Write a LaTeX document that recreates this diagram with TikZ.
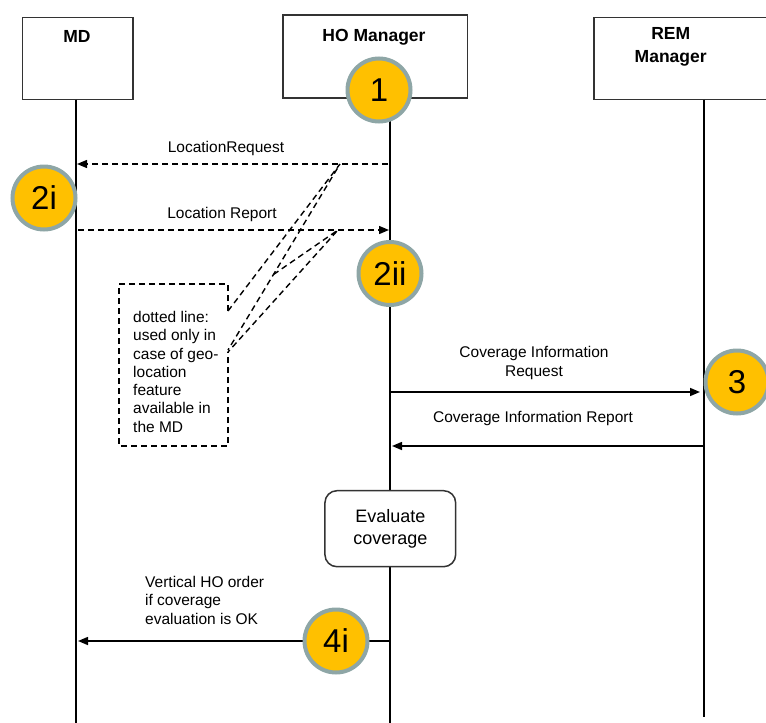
\documentclass[tikz,border=0pt]{standalone}
\usepackage{fontspec}
\setmainfont{Liberation Sans}
\usetikzlibrary{arrows.meta}
\definecolor{numfill}{HTML}{FFC000}
\definecolor{numedge}{HTML}{8EA6A6}
\definecolor{boxedge}{HTML}{333333}
\begin{document}
\begin{tikzpicture}[x=1pt,y=-1pt,
  lbl/.style={font=\fontsize{15.5}{18.3}\selectfont, inner sep=0pt},
  ttl/.style={font=\fontsize{17.5}{23}\selectfont\bfseries, align=center, inner sep=0pt},
  hdr/.style={draw=boxedge, line width=1.6pt, fill=white, inner sep=0pt},
  life/.style={line width=2.2pt},
  msg/.style={line width=1.5pt, -{Triangle[length=10pt,width=8pt]}},
  dsh/.style={dash pattern=on 6pt off 4pt, line width=1.4pt},
  num/.style={circle, fill=numfill, draw=numedge, line width=4pt, minimum size=63pt, inner sep=0pt, font=\fontsize{33}{33}\selectfont}
]
\useasboundingbox (0,0) rectangle (766,723);

% header boxes
\node[hdr, minimum width=110.6pt, minimum height=82pt, anchor=north west] (mdbox) at (21.7,16.7) {};
\node[hdr, minimum width=184.7pt, minimum height=83pt, anchor=north west] (hobox) at (282,14) {};
\node[hdr, minimum width=176pt, minimum height=82pt, anchor=north west] (rembox) at (593.3,16.7) {};
\node[ttl] (mdt) at (77,36) {MD};
\node[ttl] (hot) at (374,37) {HO Manager};
\node[ttl] (remt) at (670.7,46.5) {REM\\Manager};

% lifelines
\coordinate (mdtop) at (76,99.5);
\coordinate (mdbot) at (76,723);
\coordinate (hotop) at (390,97.5);
\coordinate (hobot) at (390,723);
\coordinate (remtop) at (704,99.5);
\coordinate (rembot) at (704,717);
\draw[life] (mdtop) -- (mdbot);
\draw[life] (hotop) -- (hobot);
\draw[life] (remtop) -- (rembot);

% location messages (dashed)
\coordinate (lrqs) at (388,164);
\coordinate (lrqe) at (77,164);
\coordinate (lrps) at (78,230);
\coordinate (lrpe) at (389,230);
\draw[dsh, -{Triangle[length=10pt,width=8pt]}] (lrqs) -- (lrqe);
\draw[dsh, -{Triangle[length=10pt,width=8pt]}] (lrps) -- (lrpe);
\node[lbl] (lrqt) at (226,148) {LocationRequest};
\node[lbl] (lrpt) at (222,214) {Location Report};

% callout box with two pointers
\coordinate (pa) at (340,164);
\coordinate (pb) at (338,230);
\coordinate (ca1) at (228,311);
\coordinate (ca2) at (228,350);
\coordinate (cx) at (273.5,274.5);
\coordinate (cb2) at (228,352);
\draw[dsh] (ca1) -- (228,284) -- (119,284) -- (119,446) -- (228,446) -- (cb2);
\draw[dsh] (ca1) -- (pa) -- (ca2);
\draw[dsh] (cx) -- (pb) -- (cb2);
\node[lbl, align=left, anchor=north west] (note) at (133,311)
  {dotted line:\\used only in\\case of geo-\\location\\feature\\available in\\the MD};

% coverage information messages
\coordinate (cirs) at (390,392);
\coordinate (cire) at (700,392);
\coordinate (cips) at (704,446);
\coordinate (cipe) at (392,446);
\draw[msg] (cirs) -- (cire);
\draw[msg] (cips) -- (cipe);
\node[lbl, align=center] (cirt) at (534,363) {Coverage Information\\Request};
\node[lbl] (cipt) at (533,418) {Coverage Information Report};

% evaluate box
\node[draw=boxedge, line width=1.5pt, fill=white, rounded corners=12pt, minimum width=130.7pt, minimum height=76pt, align=center, font=\fontsize{18}{22}\selectfont] (eval) at (390.3,528.7) {Evaluate\\coverage};

% HO order
\coordinate (hos) at (390,641);
\coordinate (hoe) at (78,641);
\draw[msg] (hos) -- (hoe);
\node[lbl, align=left, anchor=north west] (hot2) at (145,576) {Vertical HO order\\if coverage\\evaluation is OK};

% numbered circles
\node[num] (n1) at (379,90) {1};
\node[num] (n2i) at (44,198) {2i};
\node[num] (n2ii) at (390,273.5) {2ii};
\node[num] (n3) at (737,382) {3};
\node[num] (n4i) at (336,641) {4i};
\end{tikzpicture}
\end{document}
